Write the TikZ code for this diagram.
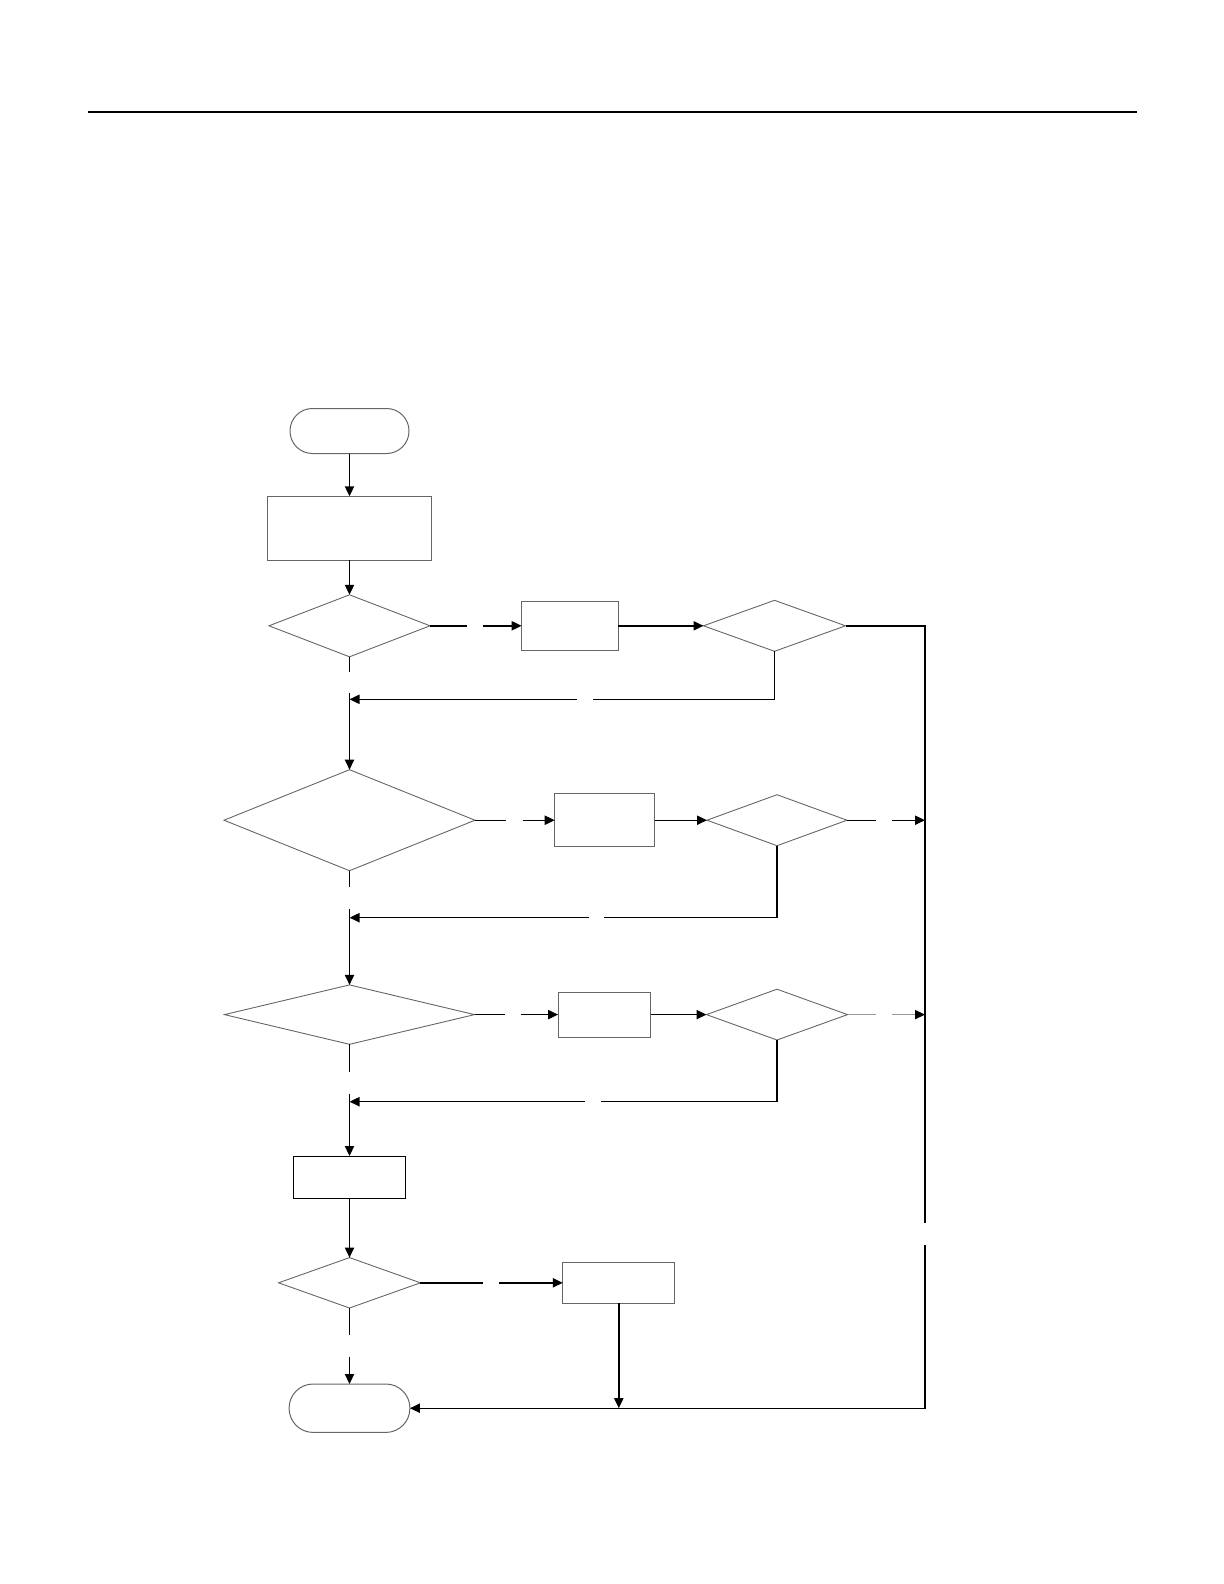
\documentclass[tikz,border=0pt]{standalone}
\usetikzlibrary{arrows.meta,shapes.geometric}

\begin{document}
\begin{tikzpicture}[
  x=0.5bp,y=-0.5bp,>=Triangle,
  flow/.style={-{Triangle[length=5bp,width=4.6bp]},draw=black,line width=0.7bp},
  seg/.style={draw=black,line width=0.7bp},
  term/.style={draw=black!60,line width=0.5bp,inner sep=0,outer sep=0},
  proc/.style={draw=black!60,line width=0.5bp,inner sep=0,outer sep=0},
  dec/.style={diamond,draw=black!60,line width=0.45bp,inner sep=0,outer sep=0}
]
\useasboundingbox (0,0) rectangle (1224,1584);
% ---------- top rule
\coordinate (ruleL) at (88,112);
\coordinate (ruleR) at (1137,112);
\draw[line width=1.1bp] (ruleL) -- (ruleR);
% ---------- main column
\node[term,minimum width=59.5bp,minimum height=22.5bp,rounded corners=11.2bp] (start) at (349.5,431) {};
\node[proc,minimum width=81.7bp,minimum height=32bp] (init) at (349.5,528.3) {};
\node[dec,minimum width=80.5bp,minimum height=31bp] (d1) at (349.5,625.8) {};
\node[dec,minimum width=125.5bp,minimum height=50.5bp] (d3) at (349.5,820.2) {};
\node[dec,minimum width=125bp,minimum height=29.7bp] (d5) at (349.5,1014.6) {};
\node[proc,draw=black,minimum width=55.6bp,minimum height=21.2bp] (b4) at (349.5,1177.2) {};
\node[dec,minimum width=70.9bp,minimum height=25.2bp] (d7) at (349.5,1282.8) {};
\node[term,minimum width=60.4bp,minimum height=24.2bp,rounded corners=12bp] (stop) at (349.5,1408.2) {};
% ---------- side branches
\node[proc,minimum width=48.3bp,minimum height=24.8bp] (b1) at (570,625.8) {};
\node[dec,minimum width=71bp,minimum height=25.5bp] (d2) at (774.5,625.8) {};
\node[proc,minimum width=49.9bp,minimum height=26.3bp] (b2) at (604.6,820.2) {};
\node[dec,minimum width=70bp,minimum height=25.5bp] (d4) at (777,820.2) {};
\node[proc,minimum width=46.3bp,minimum height=22.5bp] (b3) at (604.4,1014.6) {};
\node[dec,minimum width=70.5bp,minimum height=25.4bp] (d6) at (777,1014.6) {};
\node[proc,minimum width=56bp,minimum height=20.5bp] (b5) at (618.8,1282.8) {};
% ---------- free ends and gaps
\coordinate (s1a) at (349.5,671.7);   \coordinate (s1b) at (349.5,693.3);
\coordinate (s3a) at (349.5,887.3);   \coordinate (s3b) at (349.5,909.3);
\coordinate (s5a) at (349.5,1072.3);  \coordinate (s5b) at (349.5,1094.3);
\coordinate (s7a) at (349.5,1335);    \coordinate (s7b) at (349.5,1356.7);
\coordinate (r1a) at (466.7,625.8);   \coordinate (r1b) at (483,625.8);
\coordinate (r3a) at (506,820.2);     \coordinate (r3b) at (522.6,820.2);
\coordinate (r5a) at (504.6,1014.6);  \coordinate (r5b) at (520.7,1014.6);
\coordinate (r7a) at (483.3,1282.8);  \coordinate (r7b) at (499.4,1282.8);
\coordinate (c2) at (774.5,699.3);    \coordinate (l2a) at (593,699.3);  \coordinate (l2b) at (577,699.3);  \coordinate (m2) at (349.5,699.3);
\coordinate (c4) at (777,917.7);      \coordinate (l4a) at (604,917.7);  \coordinate (l4b) at (589,917.7);  \coordinate (m4) at (349.5,917.7);
\coordinate (c6) at (777,1101.7);     \coordinate (l6a) at (601,1101.7); \coordinate (l6b) at (585,1101.7); \coordinate (m6) at (349.5,1101.7);
\coordinate (o4a) at (875.7,820.2);   \coordinate (o4b) at (892.3,820.2); \coordinate (v4) at (925,820.2);
\coordinate (o6a) at (875.7,1014.6);  \coordinate (o6b) at (892.3,1014.6); \coordinate (v6) at (925,1014.6);
\coordinate (vtop) at (925,625.8);    \coordinate (vga) at (925,1223.3);  \coordinate (vgb) at (925,1245);  \coordinate (vbot) at (925,1408.2);
\coordinate (j5) at (618.8,1408.2);
% ---------- connectors
\draw[flow] (start) -- (init);
\draw[flow] (init) -- (d1);
\draw[seg] (d1.south) -- (s1a);   \draw[flow] (s1b) -- (d3.north);
\draw[seg] (d3.south) -- (s3a);   \draw[flow] (s3b) -- (d5.north);
\draw[seg] (d5.south) -- (s5a);   \draw[flow] (s5b) -- (b4.north);
\draw[flow] (b4) -- (d7);
\draw[seg] (d7.south) -- (s7a);   \draw[flow] (s7b) -- (stop.north);
\draw[seg] (d1.east) -- (r1a);    \draw[flow] (r1b) -- (b1.west);
\draw[flow] (b1) -- (d2.west);
\draw[seg] (d3.east) -- (r3a);    \draw[flow] (r3b) -- (b2.west);
\draw[flow] (b2) -- (d4.west);
\draw[seg] (d5.east) -- (r5a);    \draw[flow] (r5b) -- (b3.west);
\draw[flow] (b3) -- (d6.west);
\draw[seg] (d7.east) -- (r7a);    \draw[flow] (r7b) -- (b5.west);
\draw[seg] (d2.south) -- (c2) -- (l2a);  \draw[flow] (l2b) -- (m2);
\draw[seg] (d4.south) -- (c4) -- (l4a);  \draw[flow] (l4b) -- (m4);
\draw[seg] (d6.south) -- (c6) -- (l6a);  \draw[flow] (l6b) -- (m6);
\draw[seg] (d4.east) -- (o4a);    \draw[flow] (o4b) -- (v4);
\draw[seg,draw=black!40] (d6.east) -- (o6a);
\draw[flow,draw=black!40,-{Triangle[length=5bp,width=4.6bp,color=black]}] (o6b) -- (v6);
\draw[seg] (d2.east) -- (vtop) -- (vga);
\draw[flow] (vgb) -- (vbot) -- (stop.east);
\draw[flow] (b5.south) -- (j5);
\end{tikzpicture}
\end{document}
